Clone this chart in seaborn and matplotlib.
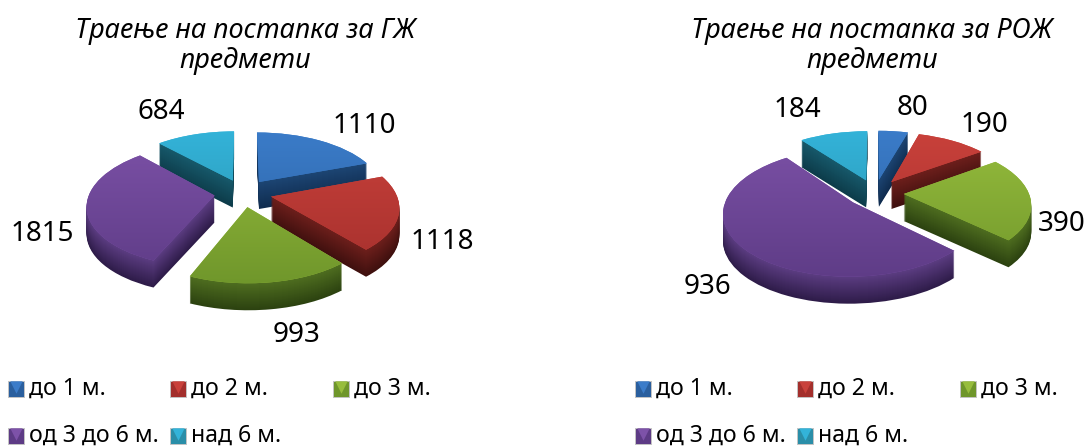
import numpy as np
import matplotlib
matplotlib.use("Agg")
import matplotlib.pyplot as plt
import seaborn as sns
from matplotlib.colors import LinearSegmentedColormap, to_rgb
from matplotlib.transforms import Affine2D, Transform

# data
categories = ["до 1 м.", "до 2 м.", "до 3 м.", "од 3 до 6 м.", "над 6 м."]
gz_values = [1110, 1118, 993, 1815, 684]
roz_values = [80, 190, 390, 936, 184]
gz_title = "Траење на постапка за ГЖ\nпредмети"
roz_title = "Траење на постапка за РОЖ\nпредмети"

top_light = ["#3b7cc9", "#c9413b", "#97bd3d", "#7d52a8", "#33b3d9"]
top_dark = ["#2a5f9e", "#a32f2c", "#6f962b", "#5d3b85", "#2a8ea8"]
side_light = ["#1d4674", "#6e1f1c", "#4f6e20", "#5c3d82", "#175a6c"]
side_dark = ["#0f2c4f", "#3f100e", "#2c4210", "#2e1c49", "#0d3c4a"]

# label centres in picture pixels
gz_label_xy = [(364, 126), (442, 242), (297, 335), (42, 234), (161, 112)]
roz_label_xy = [(912, 108), (984, 125), (1062, 224), (707, 287), (797, 110)]

DEPTH = 27
EXPLODE = 0.23


class Tilt(Transform):
    # lays a unit pie flat with a bit of perspective
    input_dims = 2
    output_dims = 2
    is_affine = False
    has_inverse = False

    def __init__(self, cx, cy, rx=125, ry=60, p=0.15):
        super().__init__()
        self.cx, self.cy, self.rx, self.ry, self.p = cx, cy, rx, ry, p

    def transform_non_affine(self, values):
        values = np.asarray(values)
        w = 1 + self.p * values[:, 1]
        return np.column_stack([self.cx + self.rx * values[:, 0] / w,
                                self.cy - self.ry * values[:, 1] / w])


def blend(c1, c2, t):
    return tuple((1 - t) * np.array(to_rgb(c1)) + t * np.array(to_rgb(c2)))


def draw_pie(ax, values, cx, cy, title, title_x, label_xy):
    tilt = Tilt(cx, cy)
    fr = np.array(values) / sum(values)
    mids = np.radians(90 - 360 * (np.cumsum(fr) - fr / 2))
    # back slices first
    rank = np.argsort(np.argsort(-np.sin(mids)))
    pie_kw = dict(explode=[EXPLODE] * 5, startangle=90, counterclock=False,
                  wedgeprops=dict(linewidth=0))

    for d in range(DEPTH, 0, -1):
        t = d / DEPTH
        cols = [blend(a, b, t) for a, b in zip(side_light, side_dark)]
        wedges, _ = ax.pie(values, colors=cols, **pie_kw)
        for i, w in enumerate(wedges):
            w.set_transform(tilt + Affine2D().translate(0, d) + ax.transData)
            w.set_zorder(rank[i] + 0.5 * (1 - t))

    wedges, _ = ax.pie(values, colors=top_light, **pie_kw)
    for i, w in enumerate(wedges):
        w.set_transform(tilt + ax.transData)
        w.set_zorder(rank[i] + 0.6)
        cmap = LinearSegmentedColormap.from_list("g", [top_light[i], top_dark[i]])
        im = ax.imshow(np.linspace(0, 1, 64)[:, None], cmap=cmap, aspect="auto",
                       extent=(cx - 180, cx + 180, cy + 95, cy - 65),
                       interpolation="bilinear", zorder=rank[i] + 0.7)
        im.set_clip_path(w)

    for val, (x, y) in zip(values, label_xy):
        ax.text(x, y, str(val), ha="center", va="center", fontsize=20,
                color="black", zorder=10)

    ax.text(title_x, 46, title, ha="center", va="center", fontsize=19.5,
            style="italic", color="black", linespacing=1.14, zorder=10)


def draw_legend(ax, x0):
    col_x = [x0, x0 + 162, x0 + 325, x0, x0 + 162]
    row_y = [389, 389, 389, 436, 436]
    for i, name in enumerate(categories):
        x, y = col_x[i], row_y[i]
        ax.scatter([x + 8], [y], marker="s", s=125, color=top_dark[i],
                   edgecolor="#c4c4c4", linewidth=0.7, zorder=5)
        ax.scatter([x + 8], [y - 2], marker="v", s=80, color=top_light[i],
                   linewidth=0, zorder=6)
        ax.text(x + 21, y, name, ha="left", va="center", fontsize=16.6,
                color="black", zorder=10)


sns.set_theme(style="white")
plt.rcParams["font.family"] = ["Noto Sans", "DejaVu Sans"]

fig = plt.figure(figsize=(10.86, 4.46), dpi=100)
ax = fig.add_axes([0, 0, 1, 1])

draw_pie(ax, gz_values, 243, 193, gz_title, 245, gz_label_xy)
draw_pie(ax, roz_values, 875, 193, roz_title, 872, roz_label_xy)
draw_legend(ax, 8)
draw_legend(ax, 635)

ax.set_aspect("auto")
ax.set_xlim(0, 1086)
ax.set_ylim(446, 0)
ax.axis("off")
fig.savefig("out.png", dpi=100, facecolor="white")
